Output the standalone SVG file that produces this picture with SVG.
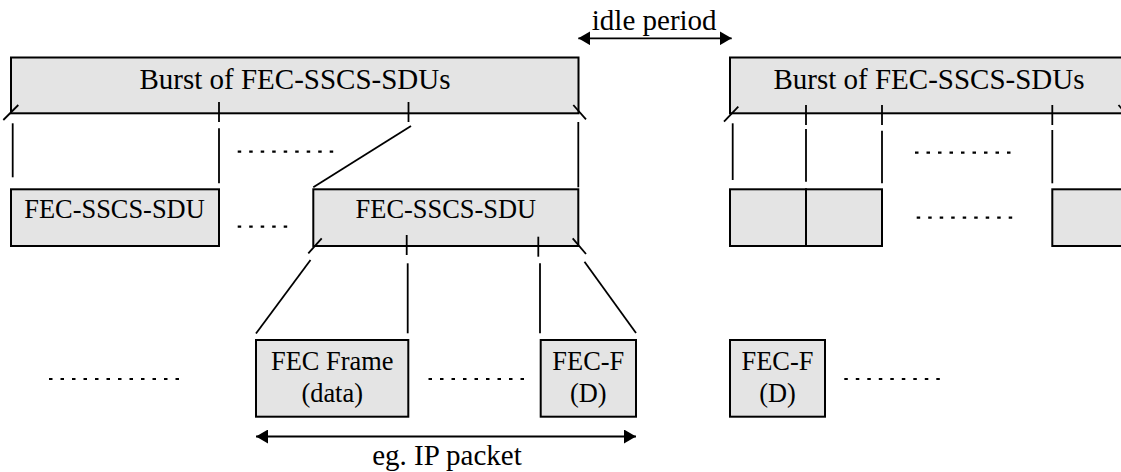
<svg xmlns="http://www.w3.org/2000/svg" width="1121" height="472" viewBox="0 0 1121 472">
<style>
.box{fill:#e4e4e4;stroke:#000;stroke-width:2}
.ln{stroke:#000;stroke-width:1.8;fill:none}
.dot{stroke:#000;stroke-width:2.2;stroke-dasharray:3.5 8;fill:none}
.big{font-family:"Liberation Serif","Times New Roman",serif;font-size:29px;fill:#000;text-anchor:middle}
.sm{font-family:"Liberation Serif","Times New Roman",serif;font-size:26.4px;fill:#000;text-anchor:middle}
</style>
<defs>
<marker id="ah" viewBox="0 0 12 14" refX="12" refY="7" markerWidth="12" markerHeight="14" markerUnits="userSpaceOnUse" orient="auto-start-reverse">
<path d="M0,0 L12,7 L0,14 Z" fill="#000"/>
</marker>
</defs>
<rect width="1121" height="472" fill="#fff"/>

<g id="burst1">
<rect class="box" x="11" y="57.5" width="567.5" height="55.8"/>
<text class="big" x="295" y="89.3">Burst of FEC-SSCS-SDUs</text>
</g>
<g id="burst2">
<rect class="box" x="730" y="57.5" width="396" height="55.8"/>
<text class="big" x="929" y="89.3">Burst of FEC-SSCS-SDUs</text>
</g>

<g id="sdu1">
<rect class="box" x="11" y="189.3" width="208" height="56.7"/>
<text class="sm" x="114.5" y="218">FEC-SSCS-SDU</text>
</g>
<g id="sdu2">
<rect class="box" x="313.3" y="189.3" width="265" height="56.7"/>
<text class="sm" x="445.8" y="218">FEC-SSCS-SDU</text>
</g>
<g id="sdu3">
<rect class="box" x="730" y="189.3" width="76" height="56.7"/>
</g>
<g id="sdu4">
<rect class="box" x="806" y="189.3" width="76" height="56.7"/>
</g>
<g id="sdu5">
<rect class="box" x="1052.3" y="189.3" width="76" height="56.7"/>
</g>

<g id="fecframe">
<rect class="box" x="256" y="340" width="152.3" height="76.7"/>
<text class="sm" x="332.2" y="370">FEC Frame</text>
<text class="sm" x="332.2" y="401.7">(data)</text>
</g>
<g id="fecf1">
<rect class="box" x="540.7" y="340" width="95.3" height="76.7"/>
<text class="sm" x="588.3" y="370">FEC-F</text>
<text class="sm" x="588.3" y="401.7">(D)</text>
</g>
<g id="fecf2">
<rect class="box" x="730" y="340" width="95" height="76.7"/>
<text class="sm" x="777.5" y="370">FEC-F</text>
<text class="sm" x="777.5" y="401.7">(D)</text>
</g>

<g id="labels">
<text class="big" x="654.2" y="30">idle period</text>
<text class="big" x="447" y="465">eg. IP packet</text>
</g>

<g id="connectors">
<line class="ln" x1="3.3" y1="120" x2="18.3" y2="105"/>
<line class="ln" x1="573.3" y1="105" x2="586" y2="119.3"/>
<line class="ln" x1="219" y1="102" x2="219" y2="122"/>
<line class="ln" x1="408.5" y1="102" x2="408.5" y2="122"/>
<line class="ln" x1="12.7" y1="123.3" x2="12.7" y2="177.3"/>
<line class="ln" x1="219" y1="128.3" x2="219" y2="183.3"/>
<line class="ln" x1="411" y1="126" x2="313.3" y2="187.3"/>
<line class="ln" x1="578.3" y1="122" x2="578.3" y2="187.3"/>
<line class="ln" x1="321.7" y1="238.3" x2="308.3" y2="253.3"/>
<line class="ln" x1="406.7" y1="235" x2="406.7" y2="255"/>
<line class="ln" x1="538.3" y1="236.7" x2="538.3" y2="256.7"/>
<line class="ln" x1="572.7" y1="238.3" x2="586" y2="254"/>
<line class="ln" x1="310.5" y1="260" x2="256" y2="333.5"/>
<line class="ln" x1="407.7" y1="263.3" x2="407.7" y2="333.3"/>
<line class="ln" x1="540" y1="263.3" x2="540" y2="333.3"/>
<line class="ln" x1="584.5" y1="261.7" x2="636" y2="333"/>
<line class="ln" x1="724" y1="121.7" x2="738.3" y2="106.7"/>
<line class="ln" x1="1118.5" y1="105" x2="1131" y2="119"/>
<line class="ln" x1="806" y1="105" x2="806" y2="125"/>
<line class="ln" x1="882" y1="105" x2="882" y2="125"/>
<line class="ln" x1="1052.3" y1="105" x2="1052.3" y2="125"/>
<line class="ln" x1="732.7" y1="123.3" x2="732.7" y2="180"/>
<line class="ln" x1="806" y1="129" x2="806" y2="181.7"/>
<line class="ln" x1="882" y1="130.7" x2="882" y2="183.3"/>
<line class="ln" x1="1052.3" y1="130" x2="1052.3" y2="183.3"/>
<line class="ln" x1="578.3" y1="38.3" x2="731.7" y2="38.3" stroke-width="2.4" marker-start="url(#ah)" marker-end="url(#ah)"/>
<line class="ln" x1="256" y1="436.5" x2="636" y2="436.5" stroke-width="2.4" marker-start="url(#ah)" marker-end="url(#ah)"/>
<line class="dot" x1="237.7" y1="151.7" x2="334" y2="151.7"/>
<line class="dot" x1="237.7" y1="226.7" x2="289" y2="226.7"/>
<line class="dot" x1="915" y1="152.7" x2="1011" y2="152.7"/>
<line class="dot" x1="916.7" y1="217.7" x2="1013" y2="217.7"/>
<line class="dot" x1="49" y1="379" x2="180" y2="379"/>
<line class="dot" x1="428.5" y1="379" x2="524" y2="379"/>
<line class="dot" x1="844.3" y1="379" x2="940" y2="379"/>
</g>
</svg>
